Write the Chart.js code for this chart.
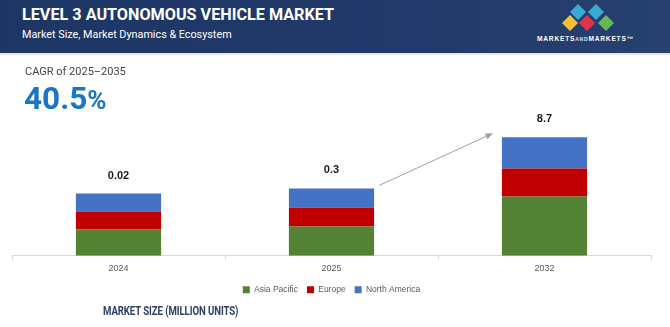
<!DOCTYPE html>
<html><head><meta charset="utf-8">
<script src="https://cdn.jsdelivr.net/npm/chart.js@4.4.1/dist/chart.umd.min.js"></script>
<style>
html,body{margin:0;padding:0;width:670px;height:327px;overflow:hidden;background:#fff;font-family:Roboto,"Liberation Sans",sans-serif;}
#header{position:absolute;left:0;top:0;width:670px;height:53px;background:linear-gradient(90deg,#1e3664 0%,#213a6b 60%,#26406f 100%);border-bottom:2px solid #e4e6ea;}
#title{position:absolute;left:22px;top:5px;color:#fff;font-weight:700;font-size:16.2px;white-space:nowrap;}
#subtitle{position:absolute;left:22px;top:28px;color:#fff;font-size:10.8px;white-space:nowrap;}
#logo{position:absolute;left:555px;top:3px;width:70px;height:32px;}
#logotext{position:absolute;left:537px;top:35px;width:96px;color:#fff;font-weight:700;font-size:6.6px;letter-spacing:0.8px;white-space:nowrap;font-family:"Liberation Sans",Arial,sans-serif;}
#logotext span{font-size:5px;color:#cfe3f5;}
#cagrLabel{position:absolute;left:25px;top:65px;color:#444;font-size:11px;white-space:nowrap;}
#cagrVal{position:absolute;left:24px;top:81px;color:#1b74c5;font-weight:700;font-size:31.5px;white-space:nowrap;line-height:36px;}
#cagrVal span{font-size:26px;}
#footer{position:absolute;left:103px;top:304px;color:#2e3f66;font-weight:700;font-size:12px;white-space:nowrap;transform:scaleX(0.8);transform-origin:0 0;letter-spacing:-0.1px;}
#wrap{position:absolute;left:0;top:0;width:670px;height:327px;}
</style></head>
<body>
<div id="wrap"><canvas id="c"></canvas></div>
<div id="header">
  <div id="title">LEVEL 3 AUTONOMOUS VEHICLE MARKET</div>
  <div id="subtitle">Market Size, Market Dynamics &amp; Ecosystem</div>
  <svg id="logo" viewBox="0 0 70 32">
    <polygon points="23,1 31,9 23,17 15,9" fill="#3aa9d6"/>
    <polygon points="41,1 49,9 41,17 33,9" fill="#3aa9d6"/>
    <polygon points="15,12 23,20 15,28 7,20" fill="#f3bf3a"/>
    <polygon points="32,12 40,20 32,28 24,20" fill="#e5324b"/>
    <polygon points="51,12 59,20 51,28 43,20" fill="#67b856"/>
  </svg>
  <div id="logotext">MARKETS<span>AND</span>MARKETS™</div>
</div>
<div id="cagrLabel">CAGR of 2025–2035</div>
<div id="cagrVal">40.5<span>%</span></div>
<div id="footer">MARKET SIZE (MILLION UNITS)</div>
<script>
const categories = ['2024', '2025', '2032'];
const marketSizeLabels = ['0.02', '0.3', '8.7'];
const seriesNames = ['Asia Pacific', 'Europe', 'North America'];
const asiaPacific = [26, 29, 59];
const europe = [18, 19, 28];
const northAmerica = [18, 19, 31];
const seriesColors = ['#548235', '#c00000', '#4472c4'];

const topLabels = {
  id: 'topLabels',
  afterDatasetsDraw(chart) {
    const ctx = chart.ctx;
    const meta = chart.getDatasetMeta(chart.data.datasets.length - 1);
    ctx.save();
    ctx.font = 'bold 11px "Liberation Sans", Arial, sans-serif';
    ctx.fillStyle = '#1a1a1a';
    ctx.textAlign = 'center';
    ctx.textBaseline = 'middle';
    meta.data.forEach((bar, i) => {
      ctx.fillText(marketSizeLabels[i], bar.x, bar.y - 18);
    });
    const a = meta.data[1], b = meta.data[2];
    const x1 = a.x + a.width / 2 + 5, y1 = a.y - 3;
    const x2 = b.x - b.width / 2 - 9, y2 = b.y - 4;
    ctx.strokeStyle = '#a0a0a0';
    ctx.fillStyle = '#a0a0a0';
    ctx.lineWidth = 1;
    const ang = Math.atan2(y2 - y1, x2 - x1);
    const hl = 8;
    ctx.beginPath();
    ctx.moveTo(x1, y1);
    ctx.lineTo(x2 - Math.cos(ang) * hl * 0.8, y2 - Math.sin(ang) * hl * 0.8);
    ctx.stroke();
    ctx.beginPath();
    ctx.moveTo(x2, y2);
    ctx.lineTo(x2 - hl * Math.cos(ang - 0.4), y2 - hl * Math.sin(ang - 0.4));
    ctx.lineTo(x2 - hl * Math.cos(ang + 0.4), y2 - hl * Math.sin(ang + 0.4));
    ctx.closePath();
    ctx.fill();
    ctx.restore();
  }
};

new Chart(document.getElementById('c'), {
  type: 'bar',
  data: {
    labels: categories,
    datasets: [
      { label: seriesNames[0], data: asiaPacific, backgroundColor: seriesColors[0] },
      { label: seriesNames[1], data: europe, backgroundColor: seriesColors[1] },
      { label: seriesNames[2], data: northAmerica, backgroundColor: seriesColors[2] }
    ]
  },
  options: {
    responsive: true,
    maintainAspectRatio: false,
    animation: false,
    layout: { padding: { left: 12, right: 19, top: 60, bottom: 23 } },
    datasets: { bar: { categoryPercentage: 1, barPercentage: 0.4, borderWidth: 0 } },
    scales: {
      x: {
        stacked: true,
        grid: { display: true, drawOnChartArea: false, drawTicks: true, tickLength: 4, color: '#d9d9d9' },
        border: { display: true, color: '#d9d9d9' },
        ticks: { color: '#595959', font: { size: 9, family: '"Liberation Sans", Arial, sans-serif' }, padding: 3 }
      },
      y: { stacked: true, display: false, min: 0, max: 195 }
    },
    plugins: {
      legend: {
        position: 'bottom',
        labels: { boxWidth: 7, boxHeight: 7, color: '#595959', font: { size: 8.5, family: '"Liberation Sans", Arial, sans-serif' }, padding: 9 }
      },
      tooltip: { enabled: false }
    }
  },
  plugins: [topLabels]
});
</script>
</body></html>
